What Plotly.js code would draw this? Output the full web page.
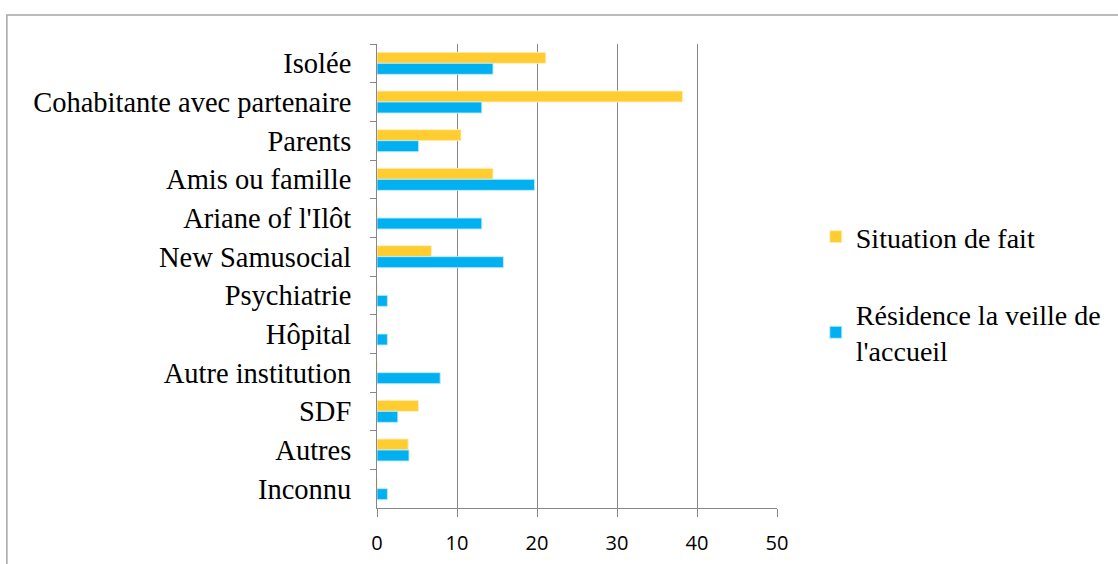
<!DOCTYPE html>
<html><head><meta charset="utf-8">
<script src="https://cdn.plot.ly/plotly-3.0.1.min.js"></script>
<style>html,body{margin:0;padding:0;background:#fff;}#chart{width:1118px;height:564px;}</style>
</head><body><div id="chart"></div>
<script>
const categories = ["Isolée","Cohabitante avec partenaire","Parents","Amis ou famille","Ariane of l'Ilôt","New Samusocial","Psychiatrie","Hôpital","Autre institution","SDF","Autres","Inconnu"];
const situationDeFait = [21.1, 38.2, 10.5, 14.5, 0, 6.8, 0, 0, 0, 5.2, 3.9, 0];
const residenceVeille = [14.5, 13.1, 5.2, 19.7, 13.1, 15.8, 1.3, 1.3, 7.9, 2.6, 4.0, 1.3];
const xTicks = [0, 10, 20, 30, 40, 50];
const seriesNames = ["Situation de fait", "Résidence la veille de<br>l'accueil"];

const SERIF = 'Liberation Serif';
const SANS = 'Open Sans';

const traces = [
  {type:'bar', orientation:'h', y:categories, x:situationDeFait, name:seriesNames[0], legendgroup:'a',
   marker:{color:'#FFCD2F', line:{color:'rgba(255,240,200,0.9)', width:1}}, hoverinfo:'x+y'},
  {type:'bar', orientation:'h', y:categories, x:residenceVeille, name:seriesNames[1], legendgroup:'b',
   marker:{color:'#00B0F0', line:{color:'rgba(190,235,255,0.9)', width:1}}, hoverinfo:'x+y'}
];

const layout = {
  width:1118, height:564,
  margin:{l:377, r:339, t:44, b:56},
  paper_bgcolor:'#fff', plot_bgcolor:'#fff',
  barmode:'group', bargap:0.43, bargroupgap:0,
  font:{family:SERIF, color:'#000'},
  xaxis:{range:[0,50], tickvals:xTicks, ticktext:xTicks.map(String), showgrid:true, gridcolor:'#878787', gridwidth:1,
         zeroline:false, showline:true, linecolor:'#878787', linewidth:1, ticks:'outside', ticklen:8, tickcolor:'#878787',
         tickfont:{family:SANS, size:20, color:'#000'}, ticklabelstandoff:9, fixedrange:true},
  yaxis:{type:'category', autorange:'reversed', showline:true, linecolor:'#878787', linewidth:1, ticks:'outside', ticklen:6,
         tickcolor:'#878787', tickson:'boundaries', showgrid:false, zeroline:false,
         tickfont:{family:SERIF, size:28.5, color:'#000'}, ticklabelstandoff:19, fixedrange:true},
  legend:{x:1.097, xanchor:'left', y:0.638, yanchor:'top', font:{family:SERIF, size:28, color:'#000'},
          tracegroupgap:38, bgcolor:'rgba(0,0,0,0)', itemwidth:30},
  showlegend:true,
  shapes:[{type:'rect', xref:'paper', yref:'paper', x0:(5-377)/402, x1:(1130-377)/402, y0:1-(580-44)/464, y1:1+(44-15)/464,
           line:{color:'#A6A6A6', width:1.5}, fillcolor:'rgba(0,0,0,0)', layer:'below'}]
};
Plotly.newPlot('chart', traces, layout, {displayModeBar:false, staticPlot:true});
</script></body></html>
